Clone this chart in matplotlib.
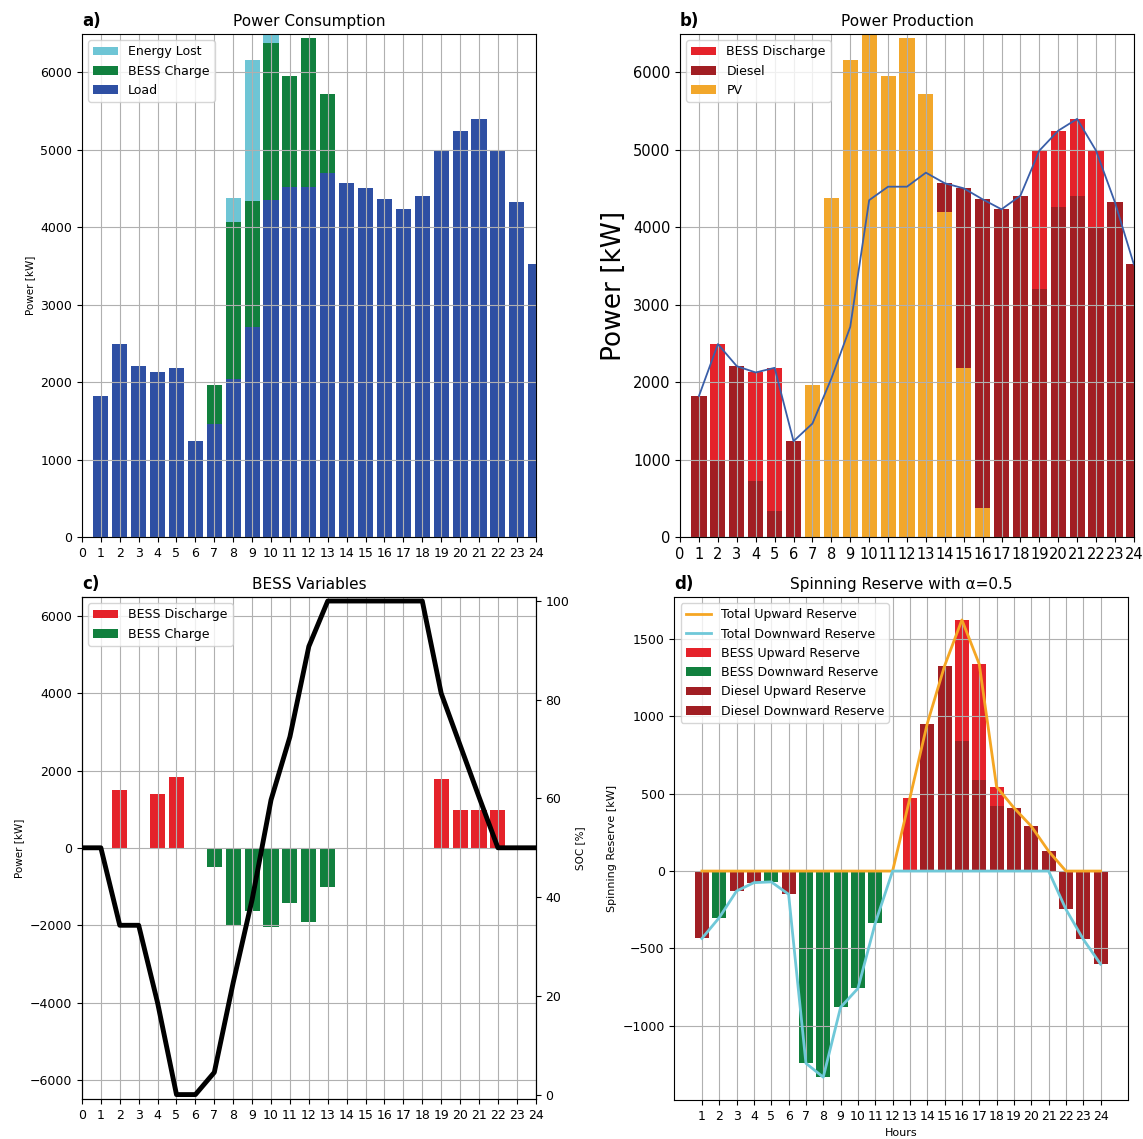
import numpy as np
import matplotlib
matplotlib.use("Agg")
import matplotlib.pyplot as plt

# hourly results of the microgrid dispatch
hours = list(range(1, 25))
hours_soc = list(range(0, 25))

load = [1822, 2490, 2205, 2124, 2184, 1237, 1465, 2046, 2713, 4348, 4522, 4522,
        4703, 4566, 4501, 4359, 4230, 4406, 4987, 5245, 5397, 4987, 4320, 3519]
bess_charge = [0, 0, 0, 0, 0, 0, 495, 2020, 1624, 2034, 1430, 1925,
               1017, 0, 0, 0, 0, 0, 0, 0, 0, 0, 0, 0]
energy_lost = [0, 0, 0, 0, 0, 0, 0, 306, 1822, 110, 0, 0,
               0, 0, 0, 0, 0, 0, 0, 0, 0, 0, 0, 0]

bess_discharge = [0, 1500, 0, 1400, 1850, 0, 0, 0, 0, 0, 0, 0,
                  0, 0, 0, 0, 0, 0, 1780, 990, 990, 990, 0, 0]
diesel = [1822, 990, 2205, 724, 334, 1237, 0, 0, 0, 0, 0, 0,
          0, 368, 2317, 3984, 4230, 4406, 3207, 4255, 4407, 3997, 4320, 3519]
pv = [0, 0, 0, 0, 0, 0, 1960, 4372, 6159, 6490, 5952, 6447,
      5720, 4198, 2184, 375, 0, 0, 0, 0, 0, 0, 0, 0]

soc = [50, 50, 34.3, 34.3, 18.6, 0, 0, 4.5, 22.7, 39.5, 59.7, 72.5, 90.8,
       100, 100, 100, 100, 100, 100, 81.3, 70.8, 60.3, 50, 50, 50]

up_bess = [0, 0, 0, 0, 0, 0, 0, 0, 0, 0, 0, 0,
           473, 0, 0, 785, 746, 126, 0, 0, 0, 0, 0, 0]
up_diesel = [0, 0, 0, 0, 0, 0, 0, 0, 0, 0, 0, 0,
             0, 953, 1327, 839, 592, 419, 409, 290, 129, 0, 0, 0]
down_bess = [0, -301, 0, 0, -70, 0, -1243, -1333, -881, -759, -337, 0,
             0, 0, 0, 0, 0, 0, 0, 0, 0, 0, 0, 0]
down_diesel = [-436, 0, -129, -75, 0, -150, 0, 0, 0, 0, 0, 0,
               0, 0, 0, 0, 0, 0, 0, 0, 0, -247, -441, -602]
total_up = [0, 0, 0, 0, 0, 0, 0, 0, 0, 0, 0, 0,
            473, 953, 1327, 1624, 1338, 545, 409, 290, 129, 0, 0, 0]
total_down = [-436, -301, -129, -75, -70, -150, -1243, -1333, -881, -759, -337, 0,
              0, 0, 0, 0, 0, 0, 0, 0, 0, -247, -441, -602]

C_LOAD = '#2e4fa3'
C_CHARGE = '#11803e'
C_LOST = '#6ec5d5'
C_DIS = '#e5222a'
C_DIESEL = '#a11e23'
C_PV = '#f2a72b'

fig = plt.figure(figsize=(11.43, 11.39), dpi=100)
ax_a = fig.add_axes([0.0717, 0.5285, 0.397, 0.4416])
ax_b = fig.add_axes([0.595, 0.5285, 0.397, 0.4416])
ax_c = fig.add_axes([0.0717, 0.0351, 0.397, 0.4407])
ax_d = fig.add_axes([0.590, 0.0342, 0.397, 0.4416])

load_a = np.array(load)
charge_a = np.array(bess_charge)
ymax = max(load_a + charge_a + np.array(energy_lost))

################
#### a) consumption
ax_a.bar(hours, energy_lost, bottom=load_a + charge_a, color=C_LOST, label='Energy Lost')
ax_a.bar(hours, bess_charge, bottom=load_a, color=C_CHARGE, label='BESS Charge')
ax_a.bar(hours, load, color=C_LOAD, label='Load')
ax_a.set_xlim(0, 24)
ax_a.set_ylim(0, ymax)
ax_a.set_xticks(range(0, 25))
ax_a.tick_params(labelsize=9)
ax_a.set_ylabel('Power [kW]', fontsize=7.5)
ax_a.set_title('Power Consumption', fontsize=11)
ax_a.set_title('a)', loc='left', fontweight='bold', fontsize=12)
ax_a.legend(loc='upper left', fontsize=9)
ax_a.grid()

################
#### b) production
pv_a = np.array(pv)
diesel_a = np.array(diesel)
ax_b.bar(hours, bess_discharge, bottom=pv_a + diesel_a, color=C_DIS, label='BESS Discharge')
ax_b.bar(hours, diesel, bottom=pv_a, color=C_DIESEL, label='Diesel')
ax_b.bar(hours, pv, color=C_PV, label='PV')
ax_b.plot(hours, load, color='#3a5ea8', lw=1.3)
ax_b.set_xlim(0, 24)
ax_b.set_ylim(0, ymax)
ax_b.set_xticks(range(0, 25))
ax_b.tick_params(labelsize=10.5)
ax_b.set_ylabel('Power [kW]', fontsize=19)
ax_b.set_title('Power Production', fontsize=11)
ax_b.set_title('b)', loc='left', fontweight='bold', fontsize=12)
ax_b.legend(loc='upper left', fontsize=9)
ax_b.grid()

################
#### c) BESS
ax_c.bar(hours, bess_discharge, color=C_DIS, label='BESS Discharge')
ax_c.bar(hours, -charge_a, color=C_CHARGE, label='BESS Charge')
ax_c.set_xlim(0, 24)
ax_c.set_ylim(-ymax, ymax)
ax_c.set_xticks(range(0, 25))
ax_c.tick_params(labelsize=9)
ax_c.set_ylabel('Power [kW]', fontsize=7.5)
ax_c.set_title('BESS Variables', fontsize=11)
ax_c.set_title('c)', loc='left', fontweight='bold', fontsize=12)
ax_c.legend(loc='upper left', fontsize=9)
ax_c.grid()
ax_soc = ax_c.twinx()
ax_soc.plot(hours_soc, soc, color='black', lw=3.5)
ax_soc.set_ylim(-0.9, 100.8)
ax_soc.set_yticks([0, 20, 40, 60, 80, 100])
ax_soc.tick_params(labelsize=9)
ax_soc.set_ylabel('SOC [%]', fontsize=7.5)

################
#### d) spinning reserve
ax_d.plot(hours, total_up, color='#f5a623', lw=2, label='Total Upward Reserve')
ax_d.plot(hours, total_down, color='#6fc8d8', lw=2, label='Total Downward Reserve')
ax_d.bar(hours, up_bess, bottom=up_diesel, color=C_DIS, label='BESS Upward Reserve')
ax_d.bar(hours, down_bess, color=C_CHARGE, label='BESS Downward Reserve')
ax_d.bar(hours, up_diesel, color=C_DIESEL, label='Diesel Upward Reserve')
ax_d.bar(hours, down_diesel, color=C_DIESEL, label='Diesel Downward Reserve')
ax_d.set_xticks(hours)
ax_d.tick_params(labelsize=9)
ax_d.set_ylabel('Spinning Reserve [kW]', fontsize=8)
ax_d.set_xlabel('Hours', fontsize=8)
ax_d.set_title('Spinning Reserve with \u03b1=0.5', fontsize=11)
ax_d.set_title('d)', loc='left', fontweight='bold', fontsize=12)
ax_d.legend(loc='upper left', fontsize=9)
ax_d.grid()

fig.savefig('out.png', dpi=100)
